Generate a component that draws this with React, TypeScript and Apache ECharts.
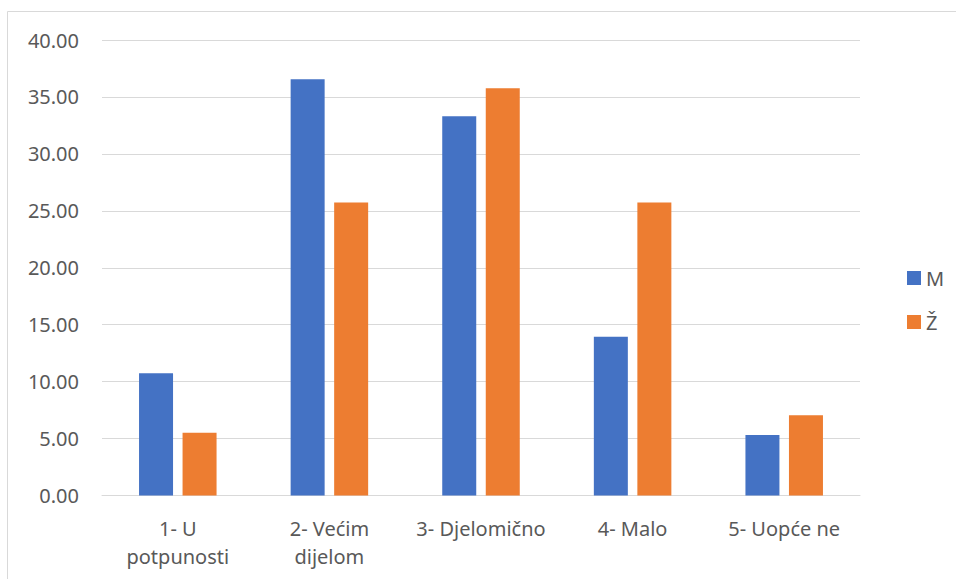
import React, { useEffect, useRef } from "react";
import * as echarts from "echarts";

const categories = ["1- U potpunosti", "2- Većim dijelom", "3- Djelomično", "4- Malo", "5- Uopće ne"];
const seriesNames = ["M", "Ž"];
const valuesM = [10.74, 36.55, 33.3, 13.95, 5.32];
const valuesZ = [5.5, 25.74, 35.77, 25.74, 7.05];
const yTicks = { min: 0, max: 40, interval: 5 };

const TEXT = "#595959";
const GRID = "#D9D9D9";
const FONT = "'Noto Sans', 'Open Sans', sans-serif";

export default function App() {
  const ref = useRef<HTMLDivElement>(null);
  useEffect(() => {
    if (!ref.current) return;
    const chart = echarts.init(ref.current, undefined, { renderer: "svg" });
    chart.setOption({
      animation: false,
      backgroundColor: "#ffffff",
      textStyle: { fontFamily: FONT },
      graphic: [
        {
          type: "rect",
          shape: { x: 7.5, y: 11.5, width: 1200, height: 1200 },
          style: { fill: "none", stroke: GRID, lineWidth: 1 },
          silent: true,
        },
      ],
      grid: { left: 102, right: 96, top: 40, bottom: 83.5, containLabel: false },
      legend: {
        orient: "vertical",
        left: 902,
        top: 263,
        itemWidth: 14,
        itemHeight: 14,
        itemGap: 24,
        icon: "rect",
        data: seriesNames,
        textStyle: { color: TEXT, fontSize: 20, fontFamily: FONT },
      },
      xAxis: {
        type: "category",
        data: categories,
        axisLine: { show: true, lineStyle: { color: GRID, width: 1 } },
        axisTick: { show: false },
        axisLabel: {
          color: TEXT,
          fontSize: 20,
          fontFamily: FONT,
          margin: 18.5,
          lineHeight: 28,
          interval: 0,
          formatter: (v: string) => {
            if (v.length > 14) {
              const i = v.lastIndexOf(" ");
              return v.slice(0, i) + "\n" + v.slice(i + 1);
            }
            return v;
          },
        },
      },
      yAxis: {
        type: "value",
        min: yTicks.min,
        max: yTicks.max,
        interval: yTicks.interval,
        axisLine: { show: false },
        axisTick: { show: false },
        splitLine: { lineStyle: { color: GRID, width: 1 } },
        axisLabel: {
          color: TEXT,
          fontSize: 20,
          fontFamily: FONT,
          margin: 23,
          formatter: (v: number) => v.toFixed(2),
        },
      },
      series: [
        {
          name: seriesNames[0],
          type: "bar",
          data: valuesM,
          barWidth: 34,
          barGap: "28%",
          itemStyle: { color: "#4472C4" },
        },
        {
          name: seriesNames[1],
          type: "bar",
          data: valuesZ,
          barWidth: 34,
          barGap: "28%",
          itemStyle: { color: "#ED7D31" },
        },
      ],
    });
    return () => chart.dispose();
  }, []);
  return (
    <div
      ref={ref}
      style={{ position: "fixed", left: 0, top: 0, width: 956, height: 579 }}
    />
  );
}
